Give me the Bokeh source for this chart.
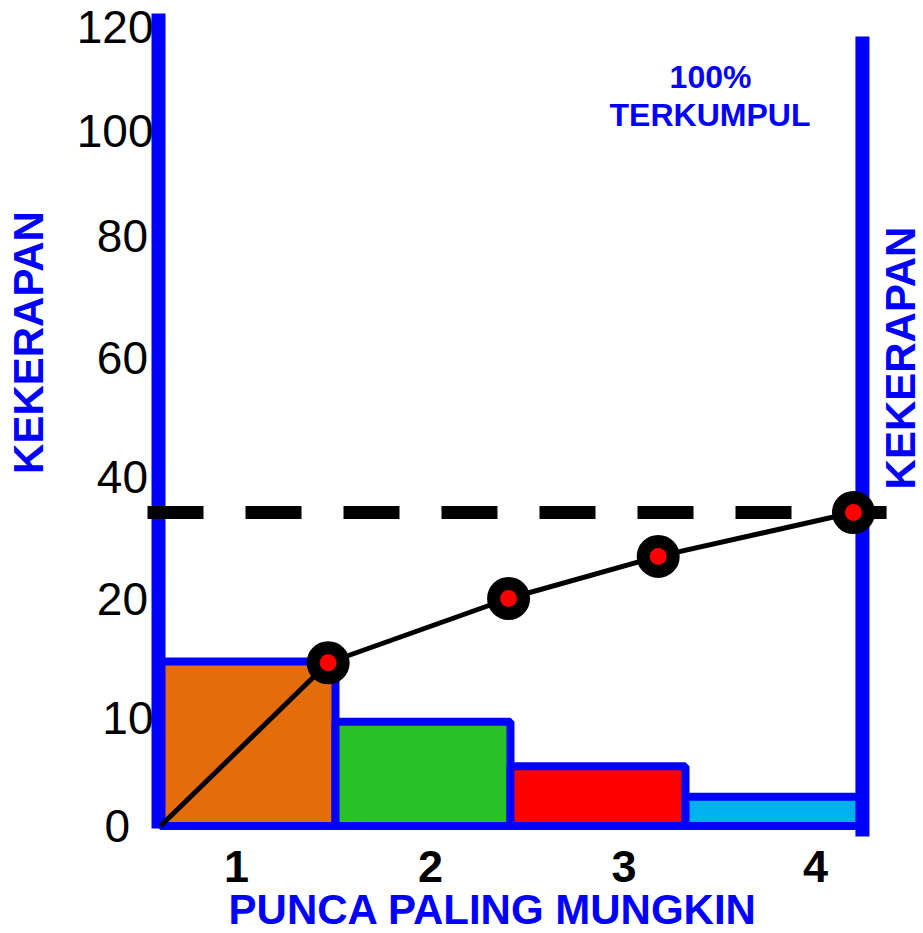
import numpy as np
from bokeh.plotting import figure
from bokeh.models import FixedTicker, Label, Range1d, ColumnDataSource, LinearAxis
from bokeh.embed import file_html
from bokeh.resources import INLINE

# ---------------- data ----------------
categories = ["1", "2", "3", "4"]
bar_values = [14.7, 9.6, 5.5, 2.7]            # KEKERAPAN per punca
bar_colors = ["#E46C0A", "#29C02A", "#FF0000", "#00B0F0"]
cum_x = [1.458, 2.489, 3.344, 4.46]           # cumulative points (bar units)
cum_values = [14.6, 20.0, 26.9, 34.1]         # cumulative curve values
target_value = 34.1                            # dashed 100% line

y_tick_values = [0, 10, 20, 40, 60, 80, 100, 120]
y_tick_labels = ["0", "10", "20", "40", "60", "80", "100", "120"]

# ---------------- layout constants ----------------
# the drawn axis is not linear: each tick sits at its own place on the scale
AXIS_POS = [0, 108.5, 227.5, 349.5, 468.5, 590, 695.5, 799.5]
X_TICK_POS = [0.934, 2.043, 3.149, 4.243]
# the tick labels of the reference are not all flush: three label columns
LABEL_COLUMNS = [(0.46, [10, 100, 120]), (0.4286, [20, 40, 60, 80]), (0.3257, [0])]


def ypos(v):
    return np.interp(v, y_tick_values, AXIS_POS)


FONT = "Liberation Sans"
BLUE = "#0000FF"

p = figure(width=923, height=933, output_backend="svg", toolbar_location=None,
           x_range=Range1d(-0.41429, 4.86), y_range=Range1d(-107.5, 825.5),
           x_axis_location=None, y_axis_location=None,
           min_border_left=0, min_border_right=0, min_border_top=0,
           min_border_bottom=0)
p.outline_line_color = None
p.grid.visible = False
p.background_fill_color = "white"
p.border_fill_color = "white"

label_of = dict(zip(y_tick_values, y_tick_labels))

# left axis: ticks with labels (in three columns)
for loc, vals in LABEL_COLUMNS:
    yax = LinearAxis(fixed_location=loc)
    yax.ticker = FixedTicker(ticks=[float(ypos(v)) for v in vals])
    yax.major_label_overrides = {float(ypos(v)): label_of[v] for v in vals}
    yax.axis_line_color = None
    yax.major_tick_line_color = None
    yax.minor_tick_line_color = None
    yax.major_tick_out = 0
    yax.major_tick_in = 0
    yax.major_label_standoff = 0
    yax.major_label_text_font = FONT
    yax.major_label_text_font_size = "46px"
    yax.major_label_text_color = "black"
    p.add_layout(yax, "left")

# bottom axis: category numbers
xax = LinearAxis(fixed_location=-12.5)
xax.ticker = FixedTicker(ticks=X_TICK_POS)
xax.major_label_overrides = {t: c for t, c in zip(X_TICK_POS, categories)}
xax.axis_line_color = None
xax.major_tick_line_color = None
xax.minor_tick_line_color = None
xax.major_tick_out = 0
xax.major_tick_in = 0
xax.major_label_standoff = 12
xax.major_label_text_font = FONT
xax.major_label_text_font_size = "45px"
xax.major_label_text_font_style = "bold"
xax.major_label_text_color = "black"
p.add_layout(xax, "below")

# bars
idx = np.arange(1, len(bar_values) + 1)
src = ColumnDataSource(dict(left=idx - 0.5, right=idx + 0.5,
                            top=ypos(bar_values), bottom=np.zeros(len(bar_values)),
                            color=bar_colors))
p.quad(left="left", right="right", top="top", bottom="bottom", source=src,
       fill_color="color", line_color=BLUE, line_width=8)

# blue vertical axis lines
p.segment(x0=[0.4886], y0=[812.5], x1=[0.4886], y1=[-2.5], line_color=BLUE, line_width=14)
p.segment(x0=[4.511], y0=[789.5], x1=[4.511], y1=[-10.5], line_color=BLUE, line_width=14)

# dashed 100% line
p.line([0.4257, 4.649], [ypos(target_value)] * 2, line_color="black", line_width=13,
       line_dash="56 42", line_cap="butt")

# cumulative line
p.line([0.5] + cum_x, [0.0] + list(ypos(cum_values)), line_color="black", line_width=5)
p.scatter(cum_x, ypos(cum_values), size=30, fill_color="#FF0000", line_color="black",
          line_width=13)

# texts
def lab(x, y, text, size, angle=0.0, color=BLUE):
    p.add_layout(Label(x=x, y=y, text=text, angle=angle, text_font=FONT,
                       text_font_size=size, text_font_style="bold", text_color=color,
                       text_align="center", text_baseline="middle"))

lab(-0.2571, 483.5, "KEKERAPAN", "42px", angle=np.pi / 2)
lab(4.7286, 468.0, "KEKERAPAN", "42px", angle=np.pi / 2)
lab(3.643, 749.5, "100%", "32px")
lab(3.640, 711.0, "TERKUMPUL", "32px")
lab(2.40, -83.5, "PUNCA PALING MUNGKIN", "42px")

open("out.html", "w").write(file_html(p, INLINE))
